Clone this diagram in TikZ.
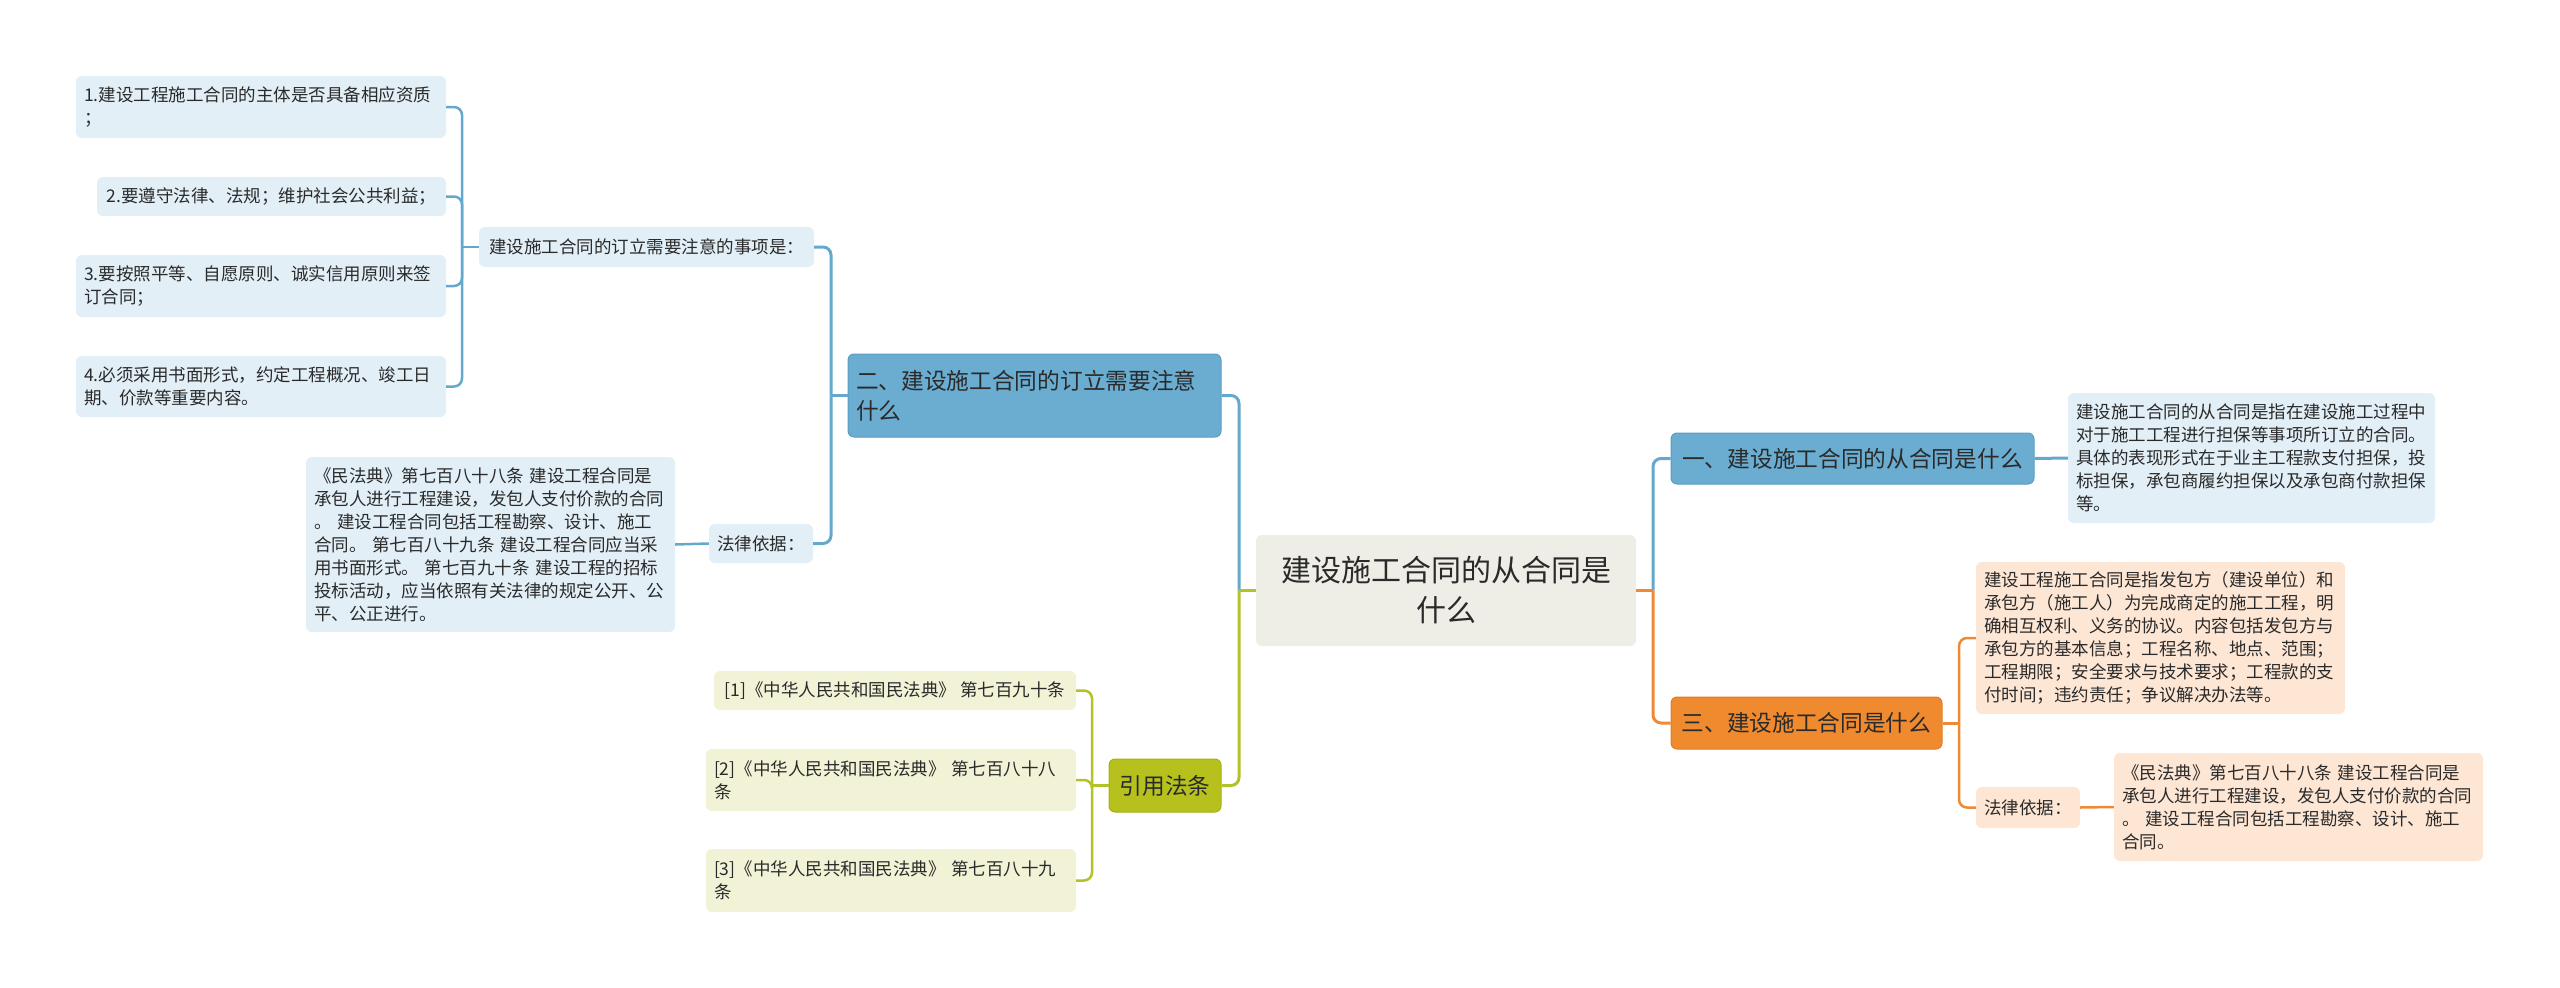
\documentclass[tikz,border=0pt]{standalone}
\usepackage{fontspec}
\setmainfont{Noto Sans CJK SC}
\usetikzlibrary{calc}
\definecolor{txt}{HTML}{2A2A2A}
\definecolor{blueFill}{HTML}{6AADD1}
\definecolor{blueEdge}{HTML}{5A9DC2}
\definecolor{blueLight}{HTML}{E2EFF7}
\definecolor{blueLine}{HTML}{65A8CD}
\definecolor{orangeFill}{HTML}{F08A2E}
\definecolor{orangeEdge}{HTML}{E07C22}
\definecolor{orangeLight}{HTML}{FDE6D4}
\definecolor{orangeLine}{HTML}{EE8A35}
\definecolor{oliveFill}{HTML}{B6C11E}
\definecolor{oliveEdge}{HTML}{A5B015}
\definecolor{oliveLight}{HTML}{F1F2D6}
\definecolor{oliveLine}{HTML}{B4C22A}
\definecolor{rootFill}{HTML}{EFEEE6}
\begin{document}
\begin{tikzpicture}[x=1pt,y=-1pt,
  base/.style={rounded corners=6pt, inner xsep=8pt, inner ysep=0pt, text=txt},
  small/.style={base, font={\fontsize{17.5}{23}\selectfont}, align=left},
  mid/.style={base, font={\fontsize{22.7}{30}\selectfont}, align=left},
  rootnode/.style={base, fill=rootFill, font={\fontsize{30}{40}\selectfont}, align=center},
  bluemain/.style={mid, fill=blueFill, draw=blueEdge, line width=1pt},
  orangemain/.style={mid, fill=orangeFill, draw=orangeEdge, line width=1pt},
  olivemain/.style={mid, fill=oliveFill, draw=oliveEdge, line width=1pt},
  bluesub/.style={small, fill=blueLight},
  orangesub/.style={small, fill=orangeLight},
  olivesub/.style={small, fill=oliveLight},
  bl/.style={draw=blueLine, line width=3pt, rounded corners=8pt},
  ol/.style={draw=orangeLine, line width=3pt, rounded corners=8pt},
  gl/.style={draw=oliveLine, line width=3pt, rounded corners=8pt},
  bls/.style={draw=blueLine, line width=2.5pt, rounded corners=8pt},
  ols/.style={draw=orangeLine, line width=2.5pt, rounded corners=8pt},
  gls/.style={draw=oliveLine, line width=2.5pt, rounded corners=8pt}
]
\useasboundingbox (0,0) rectangle (2560,988);

% root
\node[rootnode, minimum width=380pt, minimum height=111pt] (root) at (1446,590.5) {建设施工合同的从合同是\\什么};

% right side
\node[bluemain, minimum width=363pt, minimum height=51pt, align=center] (n1) at (1852.5,458.5) {一、建设施工合同的从合同是什么};
\node[bluesub, text width=351pt, minimum height=130pt] (n1d) at (2251.5,458) {建设施工合同的从合同是指在建设施工过程中\\对于施工工程进行担保等事项所订立的合同。\\具体的表现形式在于业主工程款支付担保，投\\标担保，承包商履约担保以及承包商付款担保\\等。};
\node[orangemain, minimum width=271pt, minimum height=52pt, align=center] (n3) at (1806.5,723) {三、建设施工合同是什么};
\node[orangesub, text width=353pt, minimum height=152pt] (n3d) at (2160.5,638) {建设工程施工合同是指发包方（建设单位）和\\承包方（施工人）为完成商定的施工工程，明\\确相互权利、义务的协议。内容包括发包方与\\承包方的基本信息；工程名称、地点、范围；\\工程期限；安全要求与技术要求；工程款的支\\付时间；违约责任；争议解决办法等。};
\node[orangesub, minimum width=104pt, minimum height=41pt, align=center] (n3l) at (2028,807.5) {法律依据：};
\node[orangesub, text width=353pt, minimum height=108pt] (n3ld) at (2298.5,807) {《民法典》第七百八十八条 建设工程合同是\\承包人进行工程建设，发包人支付价款的合同\\。 建设工程合同包括工程勘察、设计、施工\\合同。};

% left side
\node[bluemain, text width=357pt, minimum height=83pt] (n2) at (1034.5,395.5) {二、建设施工合同的订立需要注意\\什么};
\node[bluesub, minimum width=335pt, minimum height=40pt, align=center] (n2a) at (646.5,247) {建设施工合同的订立需要注意的事项是：};
\node[bluesub, text width=354pt, minimum height=62pt] (b1) at (261,107) {1.建设工程施工合同的主体是否具备相应资质\\；};
\node[bluesub, minimum width=349pt, minimum height=39pt, align=center] (b2) at (271.5,196.5) {2.要遵守法律、法规；维护社会公共利益；};
\node[bluesub, text width=354pt, minimum height=62pt] (b3) at (261,286) {3.要按照平等、自愿原则、诚实信用原则来签\\订合同；};
\node[bluesub, text width=354pt, minimum height=61pt] (b4) at (261,386.5) {4.必须采用书面形式，约定工程概况、竣工日\\期、价款等重要内容。};
\node[bluesub, minimum width=104pt, minimum height=39pt, align=center] (n2l) at (761,543.5) {法律依据：};
\node[bluesub, text width=353pt, minimum height=175pt] (n2ld) at (490.5,544.5) {《民法典》第七百八十八条 建设工程合同是\\承包人进行工程建设，发包人支付价款的合同\\。 建设工程合同包括工程勘察、设计、施工\\合同。 第七百八十九条 建设工程合同应当采\\用书面形式。 第七百九十条 建设工程的招标\\投标活动，应当依照有关法律的规定公开、公\\平、公正进行。};

\node[olivemain, minimum width=112pt, minimum height=53pt, align=center] (n4) at (1165,785.5) {引用法条};
\node[olivesub, minimum width=362pt, minimum height=39pt, align=center] (r1) at (895,690.5) {[1]《中华人民共和国民法典》 第七百九十条};
\node[olivesub, text width=354pt, minimum height=62pt] (r2) at (891,780) {[2]《中华人民共和国民法典》 第七百八十八\\条};
\node[olivesub, text width=354pt, minimum height=63pt] (r3) at (891,880.5) {[3]《中华人民共和国民法典》 第七百八十九\\条};

% junction coordinates
\coordinate (tL) at (1239,590.5);
\coordinate (tR) at (1653,590.5);
\coordinate (t2) at (831,395.5);
\coordinate (t2a) at (462,247);
\coordinate (t4) at (1092,785.5);
\coordinate (t3) at (1959,723);

% connectors root
\draw[bl] (tL) |- (n2.east);
\draw[gl] (tL) |- (n4.east);
\draw[gl, rounded corners=0pt] (root.west) -- (tL);
\draw[bl] (tR) |- (n1.west);
\draw[ol] (tR) |- (n3.west);
\draw[ol, rounded corners=0pt] (root.east) -- (tR);

% branch 二
\draw[bl, rounded corners=0pt] (n2.west) -- (t2);
\draw[bl] (t2) |- (n2a.east);
\draw[bl] (t2) |- (n2l.east);
\draw[bls, rounded corners=0pt] (n2a.west) -- (t2a);
\draw[bls] (t2a) |- (b1.east);
\draw[bls] (t2a) |- (b2.east);
\draw[bls] (t2a) |- (b3.east);
\draw[bls] (t2a) |- (b4.east);
\draw[bls] (n2l.west) -- (n2ld.east);

% branch 引用法条
\draw[gl, rounded corners=0pt] (n4.west) -- (t4);
\draw[gls] (t4) |- (r1.east);
\draw[gls] (t4) |- (r2.east);
\draw[gls] (t4) |- (r3.east);

% branch 一
\draw[bl] (n1.east) -- (n1d.west);

% branch 三
\draw[ol, rounded corners=0pt] (n3.east) -- (t3);
\draw[ols] (t3) |- (n3d.west);
\draw[ols] (t3) |- (n3l.west);
\draw[ols] (n3l.east) -- (n3ld.west);
\end{tikzpicture}
\end{document}
